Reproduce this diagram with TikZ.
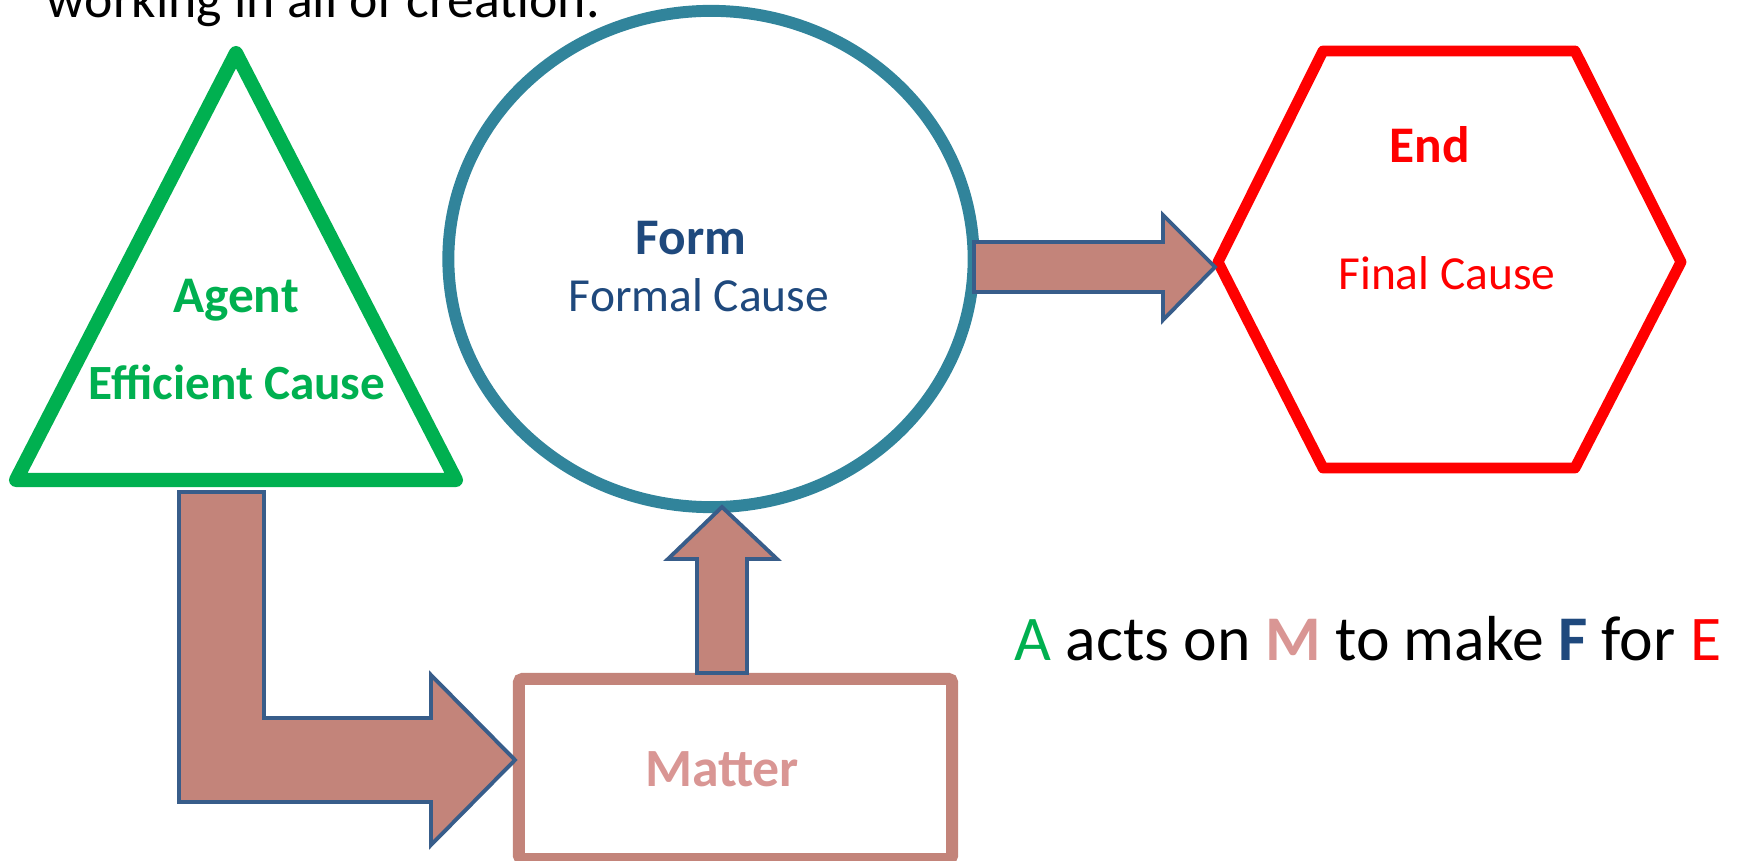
\documentclass[tikz,border=0pt]{standalone}
\usepackage{fontspec}
\setmainfont{Carlito}
\usetikzlibrary{shapes.geometric}

\definecolor{agentgreen}{HTML}{00B050}
\definecolor{formteal}{HTML}{31849B}
\definecolor{formblue}{HTML}{1F497D}
\definecolor{endred}{HTML}{FF0000}
\definecolor{matterbrown}{HTML}{C3847A}
\definecolor{matterpink}{HTML}{D99694}
\definecolor{arrowline}{HTML}{385D8A}

\begin{document}
\begin{tikzpicture} [
    x=0.01cm, y=-0.01cm,
    blockarrow/.style={fill=matterbrown, draw=arrowline, line width=1.1pt, line join=miter},
    causetitle/.style={font=\fontsize{14.6}{17}\selectfont\bfseries, anchor=base, inner sep=0pt},
    causename/.style={font=\fontsize{13.5}{16}\selectfont, anchor=base, inner sep=0pt}
  ]

\useasboundingbox (0,0) rectangle (1738,861);

% line of text above, cut by the frame
\node[anchor=base west, inner sep=0pt, font=\fontsize{15.3}{18}\selectfont] (intro) at (46,18) {working in all of creation.};

% agent
\coordinate (agtop) at (236,53);
\coordinate (agleft) at (16,480);
\coordinate (agright) at (456,480);
\draw[agentgreen, line width=4pt, line join=round] (agtop) -- (agright) -- (agleft) -- cycle;
\node[causetitle, agentgreen] (agent) at (236,313) {Agent};
\node[causetitle, agentgreen, font=\fontsize{14}{17}\selectfont\bfseries] (efficient) at (237,400) {Efficient Cause};

% form
\node[ellipse, draw=formteal, line width=3.4pt, outer sep=0pt, minimum width=5.25cm, minimum height=4.96cm] (form) at (711,259) {};
\node[causetitle, formblue] (formlabel) at (691,255) {Form};
\node[causename, formblue] (formal) at (699,312) {Formal Cause};

% end
\coordinate (endleft) at (1218,262);
\draw[endred, line width=3.1pt, line join=round] (endleft) -- (1323,51) -- (1575,51) -- (1681,262) -- (1575,468) -- (1323,468) -- cycle;
\node[causetitle, endred] (endlabel) at (1430,163) {End};
\node[causename, endred] (final) at (1447,290) {Final Cause};

% matter
\node[draw=matterbrown, line width=3.4pt, outer sep=0pt, rounded corners=1pt, minimum width=4.33cm, minimum height=1.8cm] (matter) at (735.5,769) {};
\node[causetitle, matterpink, font=\fontsize{15.3}{18}\selectfont\bfseries] (matterlabel) at (722,787) {Matter};

% block arrows
\coordinate (mattertip) at (515,760);
\coordinate (formtip) at (722,507);
\coordinate (endtip) at (1215,267);
\draw[blockarrow] (179,492) -- (264,492) -- (264,718) -- (431,718) -- (431,675) -- (mattertip) -- (431,845) -- (431,802) -- (179,802) -- cycle;
\draw[blockarrow] (697,673) -- (697,559) -- (668,559) -- (formtip) -- (777,559) -- (747,559) -- (747,673) -- cycle;
\draw[blockarrow] (974,242) -- (1163,242) -- (1163,215) -- (endtip) -- (1163,320) -- (1163,292) -- (974,292) -- cycle;

% summary
\node[anchor=base west, inner sep=0pt, font=\fontsize{18.1}{21}\selectfont] (summary) at (1014,661) {\textcolor{agentgreen}{A} acts on \textcolor{matterpink}{\textbf{M}} to make \textcolor{formblue}{\textbf{F}} for \textcolor{endred}{E}};

\end{tikzpicture}
\end{document}
